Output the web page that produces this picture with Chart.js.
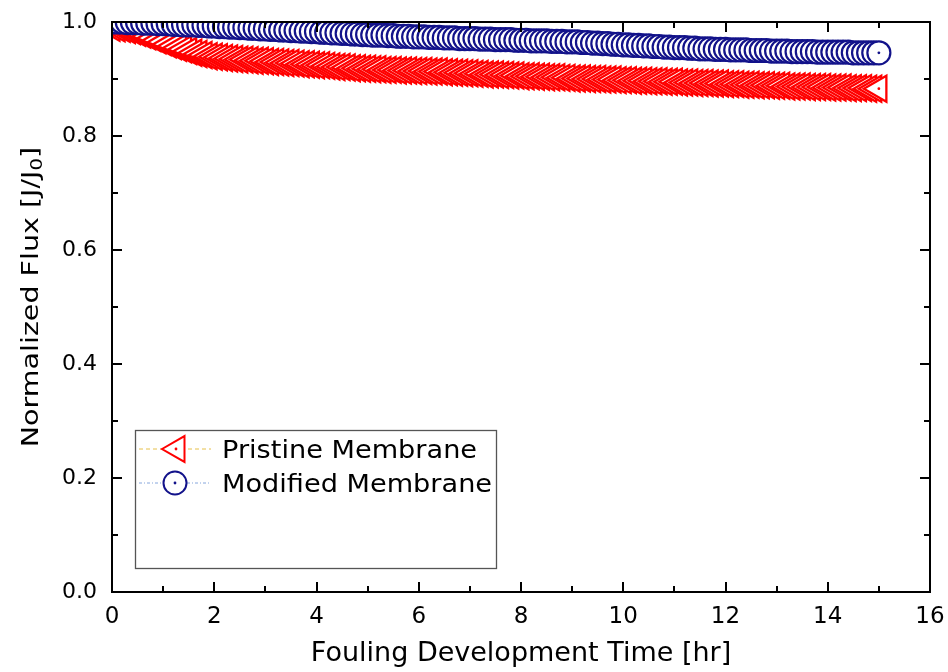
<!DOCTYPE html>
<html><head><meta charset="utf-8">
<script src="https://cdn.jsdelivr.net/npm/chart.js@4.4.1/dist/chart.umd.min.js"></script>
<style>html,body{margin:0;padding:0;background:#fff;} canvas{display:block;}</style>
</head><body>
<canvas id="c" width="948" height="672"></canvas>
<script>
const timeHr = [
  0.0,0.1,0.2,0.3,0.4,0.5,0.6,0.7,0.8,0.9,
  1.0,1.1,1.2,1.3,1.4,1.5,1.6,1.7,1.8,1.9,
  2.0,2.1,2.2,2.3,2.4,2.5,2.6,2.7,2.8,2.9,
  3.0,3.1,3.2,3.3,3.4,3.5,3.6,3.7,3.8,3.9,
  4.0,4.1,4.2,4.3,4.4,4.5,4.6,4.7,4.8,4.9,
  5.0,5.1,5.2,5.3,5.4,5.5,5.6,5.7,5.8,5.9,
  6.0,6.1,6.2,6.3,6.4,6.5,6.6,6.7,6.8,6.9,
  7.0,7.1,7.2,7.3,7.4,7.5,7.6,7.7,7.8,7.9,
  8.0,8.1,8.2,8.3,8.4,8.5,8.6,8.7,8.8,8.9,
  9.0,9.1,9.2,9.3,9.4,9.5,9.6,9.7,9.8,9.9,
  10.0,10.1,10.2,10.3,10.4,10.5,10.6,10.7,10.8,10.9,
  11.0,11.1,11.2,11.3,11.4,11.5,11.6,11.7,11.8,11.9,
  12.0,12.1,12.2,12.3,12.4,12.5,12.6,12.7,12.8,12.9,
  13.0,13.1,13.2,13.3,13.4,13.5,13.6,13.7,13.8,13.9,
  14.0,14.1,14.2,14.3,14.4,14.5,14.6,14.7,14.8,14.9,
  15.0
];
const pristineFlux = [
  0.990,0.989,0.988,0.986,0.984,0.981,0.978,0.975,0.972,0.968,
  0.965,0.961,0.958,0.955,0.952,0.949,0.946,0.944,0.942,0.940,
  0.939,0.938,0.937,0.936,0.935,0.934,0.934,0.933,0.932,0.932,
  0.931,0.930,0.930,0.929,0.928,0.928,0.927,0.926,0.926,0.925,
  0.924,0.924,0.923,0.922,0.921,0.921,0.920,0.919,0.919,0.918,
  0.918,0.917,0.917,0.916,0.916,0.916,0.915,0.915,0.915,0.914,
  0.914,0.914,0.913,0.913,0.913,0.912,0.912,0.911,0.911,0.910,
  0.910,0.909,0.909,0.908,0.908,0.908,0.907,0.907,0.906,0.906,
  0.905,0.905,0.905,0.904,0.904,0.903,0.903,0.903,0.902,0.902,
  0.901,0.901,0.901,0.900,0.900,0.900,0.899,0.899,0.899,0.898,
  0.898,0.898,0.897,0.897,0.897,0.896,0.896,0.896,0.895,0.895,
  0.895,0.894,0.894,0.894,0.893,0.893,0.893,0.892,0.892,0.892,
  0.891,0.891,0.891,0.890,0.890,0.890,0.889,0.889,0.889,0.888,
  0.888,0.888,0.887,0.887,0.887,0.887,0.886,0.886,0.886,0.886,
  0.885,0.885,0.885,0.885,0.884,0.884,0.884,0.884,0.883,0.883,
  0.883
];
const modifiedFlux = [
  1.000,1.000,1.000,0.999,0.999,0.999,0.998,0.998,0.998,0.997,
  0.997,0.997,0.996,0.996,0.995,0.995,0.995,0.994,0.994,0.993,
  0.993,0.992,0.992,0.991,0.991,0.990,0.990,0.989,0.989,0.988,
  0.988,0.987,0.987,0.986,0.986,0.985,0.985,0.984,0.984,0.983,
  0.983,0.982,0.982,0.981,0.981,0.980,0.980,0.979,0.979,0.978,
  0.978,0.977,0.977,0.977,0.976,0.976,0.975,0.975,0.975,0.974,
  0.974,0.974,0.973,0.973,0.973,0.972,0.972,0.972,0.971,0.971,
  0.971,0.971,0.970,0.970,0.970,0.969,0.969,0.969,0.969,0.968,
  0.968,0.968,0.967,0.967,0.967,0.967,0.966,0.966,0.966,0.965,
  0.965,0.965,0.964,0.964,0.963,0.963,0.962,0.962,0.961,0.961,
  0.960,0.960,0.959,0.959,0.958,0.958,0.957,0.957,0.956,0.956,
  0.955,0.955,0.955,0.954,0.954,0.953,0.953,0.953,0.952,0.952,
  0.952,0.951,0.951,0.951,0.951,0.950,0.950,0.950,0.950,0.949,
  0.949,0.949,0.949,0.948,0.948,0.948,0.948,0.948,0.947,0.947,
  0.947,0.947,0.947,0.947,0.947,0.946,0.946,0.946,0.946,0.946,
  0.946
];
const seriesNames = ['Pristine Membrane', 'Modified Membrane'];
const xMajorTicks = [0, 2, 4, 6, 8, 10, 12, 14, 16];
const xMinorTicks = [1, 3, 5, 7, 9, 11, 13, 15];
const yMajorTicks = [0.0, 0.2, 0.4, 0.6, 0.8, 1.0];
const yMinorTicks = [0.1, 0.3, 0.5, 0.7, 0.9];
const xTitle = 'Fouling Development Time [hr]';
const yTitleParts = ['Normalized Flux [J/J', '0', ']'];

const FONT = "'DejaVu Sans', 'Liberation Sans', sans-serif";
const RED = '#ff0000';
const NAVY = '#12128a';

const toPoints = (xs, ys) => xs.map((x, i) => ({ x: x, y: ys[i] }));

const frameTicks = {
  id: 'frameTicks',
  afterDraw(chart) {
    const ctx = chart.ctx, a = chart.chartArea;
    const xs = chart.scales.x, ys = chart.scales.y;
    ctx.save();
    ctx.strokeStyle = '#000';
    ctx.lineWidth = 2;
    ctx.strokeRect(a.left, a.top, a.right - a.left, a.bottom - a.top);
    ctx.beginPath();
    const tickX = (vals, len) => vals.forEach(v => {
      const p = Math.round(xs.getPixelForValue(v));
      ctx.moveTo(p, a.bottom); ctx.lineTo(p, a.bottom - len);
      ctx.moveTo(p, a.top); ctx.lineTo(p, a.top + len);
    });
    const tickY = (vals, len) => vals.forEach(v => {
      const p = Math.round(ys.getPixelForValue(v));
      ctx.moveTo(a.left, p); ctx.lineTo(a.left + len, p);
      ctx.moveTo(a.right, p); ctx.lineTo(a.right - len, p);
    });
    tickX(xMajorTicks, 10); tickX(xMinorTicks, 6);
    tickY(yMajorTicks, 10); tickY(yMinorTicks, 6);
    ctx.stroke();
    ctx.restore();
  }
};

const centerDots = {
  id: 'centerDots',
  afterDatasetsDraw(chart) {
    const ctx = chart.ctx;
    const cols = [RED, NAVY];
    chart.data.datasets.forEach((ds, i) => {
      const meta = chart.getDatasetMeta(i);
      const el = meta.data[meta.data.length - 1];
      if (!el) return;
      ctx.save();
      ctx.fillStyle = cols[i];
      ctx.beginPath(); ctx.arc(el.x, el.y, 1.4, 0, Math.PI * 2); ctx.fill();
      ctx.restore();
    });
  }
};

function drawTri(ctx, x, y, r) {
  ctx.beginPath();
  for (let k = 0; k < 3; k++) {
    const ang = -Math.PI / 2 + k * 2 * Math.PI / 3;
    const px = x + Math.sin(ang) * r, py = y - Math.cos(ang) * r;
    if (k === 0) ctx.moveTo(px, py); else ctx.lineTo(px, py);
  }
  ctx.closePath();
}

const customLegend = {
  id: 'customLegend',
  afterDraw(chart) {
    const ctx = chart.ctx;
    ctx.save();
    ctx.fillStyle = '#fff';
    ctx.fillRect(136, 431, 360, 137);
    ctx.strokeStyle = '#555';
    ctx.lineWidth = 1.3;
    ctx.strokeRect(135.5, 430.5, 361, 138);
    ctx.lineWidth = 1;
    ctx.strokeStyle = '#e6c04a';
    ctx.setLineDash([4, 3]);
    ctx.beginPath(); ctx.moveTo(139, 449); ctx.lineTo(211, 449); ctx.stroke();
    ctx.strokeStyle = '#86a6dc';
    ctx.setLineDash([3, 2, 1, 2]);
    ctx.beginPath(); ctx.moveTo(139, 483); ctx.lineTo(211, 483); ctx.stroke();
    ctx.setLineDash([]);
    ctx.lineWidth = 2;
    drawTri(ctx, 177, 449, 15);
    ctx.fillStyle = '#fff'; ctx.fill();
    ctx.strokeStyle = RED; ctx.stroke();
    ctx.fillStyle = RED; ctx.beginPath(); ctx.arc(176, 449, 1.4, 0, Math.PI * 2); ctx.fill();
    ctx.beginPath(); ctx.arc(175, 483, 11.5, 0, Math.PI * 2);
    ctx.fillStyle = '#fff'; ctx.fill();
    ctx.lineWidth = 2; ctx.strokeStyle = NAVY; ctx.stroke();
    ctx.fillStyle = NAVY; ctx.beginPath(); ctx.arc(175, 483, 1.4, 0, Math.PI * 2); ctx.fill();
    ctx.fillStyle = '#000';
    ctx.font = '24.7px ' + FONT;
    ctx.textBaseline = 'alphabetic';
    [[seriesNames[0], 457.5], [seriesNames[1], 492]].forEach(([t, by]) => {
      ctx.save(); ctx.translate(222, by); ctx.scale(1.1, 1); ctx.fillText(t, 0, 0); ctx.restore();
    });
    ctx.restore();
  }
};

const yTitle = {
  id: 'yTitle',
  afterDraw(chart) {
    const ctx = chart.ctx;
    ctx.save();
    ctx.translate(30, 297);
    ctx.rotate(-Math.PI / 2);
    ctx.scale(1.24, 1);
    ctx.fillStyle = '#000';
    ctx.textBaseline = 'alphabetic';
    const big = '23px ' + FONT, small = '16px ' + FONT;
    ctx.font = big;
    const w1 = ctx.measureText(yTitleParts[0]).width;
    const w3 = ctx.measureText(yTitleParts[2]).width;
    ctx.font = small;
    const w2 = ctx.measureText(yTitleParts[1]).width;
    let x = -(w1 + w2 + w3) / 2;
    const base = 8.4;
    ctx.font = big; ctx.fillText(yTitleParts[0], x, base); x += w1;
    ctx.font = small; ctx.fillText(yTitleParts[1], x, base + 4); x += w2;
    ctx.font = big; ctx.fillText(yTitleParts[2], x, base);
    ctx.restore();
  }
};

new Chart(document.getElementById('c'), {
  type: 'line',
  data: {
    datasets: [
      {
        label: seriesNames[0],
        data: toPoints(timeHr, pristineFlux),
        borderColor: '#e6c04a', borderWidth: 1, borderDash: [4, 3],
        pointStyle: 'triangle', rotation: -90, pointRadius: 15,
        pointBorderColor: RED, pointBackgroundColor: '#fff', pointBorderWidth: 2.3,
        order: 1
      },
      {
        label: seriesNames[1],
        data: toPoints(timeHr, modifiedFlux),
        borderColor: '#86a6dc', borderWidth: 1, borderDash: [3, 2, 1, 2],
        pointStyle: 'circle', pointRadius: 11.5,
        pointBorderColor: NAVY, pointBackgroundColor: '#fff', pointBorderWidth: 2.2,
        order: 0
      }
    ]
  },
  options: {
    responsive: false, devicePixelRatio: 1, animation: false,
    layout: { padding: { left: 0, top: 22, right: 18, bottom: 0 } },
    plugins: { legend: { display: false }, tooltip: { enabled: false } },
    scales: {
      x: {
        type: 'linear', min: 0, max: 16,
        afterBuildTicks: s => { s.ticks = xMajorTicks.map(v => ({ value: v })); },
        afterFit: s => { s.height = 80; s.paddingLeft = 0; s.paddingRight = 0; },
        grid: { display: false, drawTicks: false, tickLength: 0 },
        border: { display: false },
        ticks: { color: '#000', font: { family: FONT, size: 23 }, padding: 11, maxRotation: 0, autoSkip: false,
                 callback: v => String(v) },
        title: { display: true, text: xTitle, color: '#000', font: { family: FONT, size: 27 }, padding: { top: 0, bottom: 2 } }
      },
      y: {
        type: 'linear', min: 0, max: 1,
        afterBuildTicks: s => { s.ticks = yMajorTicks.map(v => ({ value: v })); },
        afterFit: s => { s.width = 112; s.paddingTop = 0; s.paddingBottom = 0; },
        grid: { display: false, drawTicks: false, tickLength: 0 },
        border: { display: false },
        ticks: { color: '#000', font: { family: FONT, size: 22 }, padding: 15, autoSkip: false,
                 callback: v => Number(v).toFixed(1) }
      }
    }
  },
  plugins: [centerDots, frameTicks, customLegend, yTitle]
});
</script>
</body></html>
